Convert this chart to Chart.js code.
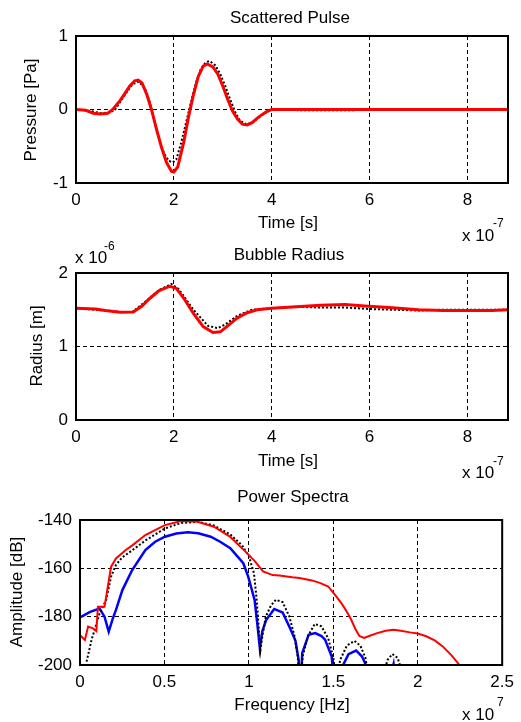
<!DOCTYPE html>
<html>
<head>
<meta charset="utf-8">
<script src="https://cdn.jsdelivr.net/npm/chart.js@4.4.1/dist/chart.umd.min.js"></script>
<style>
  html, body { margin: 0; padding: 0; background: #fff; }
  #wrap { position: relative; width: 521px; height: 722px; }
  #wrap canvas { position: absolute; left: 0; top: 0; }
</style>
</head>
<body>
<div id="wrap">
  <canvas id="pulse" width="521" height="722"></canvas>
  <canvas id="radius" width="521" height="722"></canvas>
  <canvas id="spectra" width="521" height="722"></canvas>
</div>
<script>
// Scattered pulse, time in units of 1e-7 s
const pulseTimeRed = [0, 0.2, 0.35, 0.5, 0.65, 0.75, 0.9, 1.0, 1.1, 1.2, 1.27, 1.35, 1.45, 1.55, 1.65, 1.75, 1.85, 1.95, 2.0, 2.08, 2.2, 2.3, 2.4, 2.5, 2.6, 2.68, 2.8, 2.9, 3.0, 3.1, 3.2, 3.3, 3.4, 3.5, 3.6, 3.7, 3.8, 3.9, 4.0, 8.83];
const pulseRed = [0, -0.01, -0.05, -0.06, -0.05, 0, 0.12, 0.22, 0.32, 0.39, 0.40, 0.36, 0.2, -0.02, -0.28, -0.52, -0.72, -0.84, -0.85, -0.78, -0.45, -0.1, 0.2, 0.45, 0.59, 0.62, 0.58, 0.48, 0.32, 0.14, -0.02, -0.13, -0.2, -0.21, -0.18, -0.12, -0.07, -0.03, 0, 0];
const pulseTimeBlack = [0, 0.3, 0.5, 0.7, 0.8, 1.0, 1.15, 1.28, 1.4, 1.5, 1.6, 1.7, 1.8, 1.9, 1.98, 2.05, 2.15, 2.25, 2.35, 2.45, 2.55, 2.65, 2.73, 2.85, 2.95, 3.05, 3.15, 3.25, 3.35, 3.48, 3.6, 3.75, 3.9, 4.0, 4.6, 5.7, 5.75, 8.83];
const pulseBlack = [0, -0.02, -0.05, -0.04, 0, 0.2, 0.34, 0.38, 0.3, 0.12, -0.15, -0.4, -0.6, -0.7, -0.72, -0.68, -0.45, -0.18, 0.1, 0.36, 0.55, 0.64, 0.66, 0.6, 0.48, 0.32, 0.14, -0.03, -0.15, -0.2, -0.18, -0.1, -0.03, 0, -0.01, -0.01, 0, 0];

// Bubble radius, in units of 1e-6 m
const radiusTimeRed = [0, 0.4, 0.6, 0.9, 1.17, 1.35, 1.5, 1.7, 1.92, 2.05, 2.2, 2.4, 2.6, 2.8, 2.95, 3.1, 3.3, 3.5, 3.7, 4.0, 4.5, 5.0, 5.5, 5.9, 6.4, 7.0, 7.5, 8.0, 8.5, 8.83];
const radiusRed = [1.52, 1.51, 1.49, 1.465, 1.47, 1.55, 1.65, 1.76, 1.82, 1.79, 1.66, 1.45, 1.27, 1.19, 1.2, 1.28, 1.39, 1.46, 1.5, 1.52, 1.54, 1.56, 1.57, 1.55, 1.53, 1.5, 1.49, 1.49, 1.49, 1.5];
const radiusTimeBlack = [0, 0.4, 0.9, 1.15, 1.4, 1.7, 1.95, 2.1, 2.4, 2.7, 2.9, 3.05, 3.3, 3.6, 4.0, 4.5, 5.0, 5.5, 6.0, 6.5, 7.0, 7.5, 8.0, 8.5, 8.83];
const radiusBlack = [1.52, 1.5, 1.47, 1.47, 1.6, 1.77, 1.85, 1.78, 1.5, 1.28, 1.25, 1.3, 1.42, 1.5, 1.52, 1.54, 1.53, 1.53, 1.51, 1.5, 1.49, 1.5, 1.5, 1.5, 1.5];

// Power spectra, frequency in units of 1e7 Hz, amplitude in dB
const freqRed = [0, 0.029, 0.048, 0.077, 0.097, 0.106, 0.145, 0.155, 0.184, 0.213, 0.271, 0.31, 0.387, 0.45, 0.503, 0.6, 0.696, 0.793, 0.89, 0.986, 1.035, 1.084, 1.141, 1.18, 1.257, 1.3, 1.373, 1.42, 1.47, 1.51, 1.548, 1.58, 1.606, 1.63, 1.654, 1.683, 1.72, 1.76, 1.81, 1.857, 1.9, 1.954, 2.0, 2.05, 2.1, 2.148, 2.2, 2.245, 2.3];
const ampRed = [-187.6, -189.7, -184.1, -184.8, -186, -175.9, -175.9, -171.7, -159.3, -155.9, -152.4, -150.5, -146.2, -144, -142.1, -140.4, -140.7, -142.8, -147, -153.5, -157, -161.3, -162.8, -163, -163.7, -164, -165, -166, -167.5, -171, -174.4, -178, -181.3, -185, -188, -188.8, -187.8, -186.8, -185.8, -185.4, -185.8, -186.5, -187, -188.1, -189.8, -192.3, -196, -199.8, -205];
const freqBlue = [0, 0.06, 0.116, 0.145, 0.17, 0.193, 0.213, 0.251, 0.309, 0.387, 0.445, 0.503, 0.57, 0.638, 0.7, 0.774, 0.83, 0.89, 0.967, 0.996, 1.034, 1.05, 1.065, 1.08, 1.102, 1.15, 1.2, 1.248, 1.276, 1.295, 1.305, 1.316, 1.354, 1.393, 1.43, 1.451, 1.49, 1.51, 1.558, 1.59, 1.635, 1.67, 1.693, 1.77, 1.857, 1.9];
const ampBlue = [-180.3, -178, -176.6, -180, -186.2, -181, -177.2, -169, -160.7, -152.4, -149, -146.9, -145.6, -145.1, -145.5, -146.9, -149, -151.7, -157.9, -163.4, -173.1, -183, -193, -186, -181.4, -176.8, -178.3, -185.4, -190, -198, -212, -195, -187.5, -186.8, -188, -189.5, -196.4, -210, -200, -195.5, -194, -196.5, -200, -225, -199.6, -225];
const freqBlack = [0.039, 0.068, 0.097, 0.116, 0.155, 0.184, 0.213, 0.25, 0.31, 0.387, 0.503, 0.6, 0.7, 0.79, 0.89, 0.96, 1.0, 1.03, 1.045, 1.06, 1.068, 1.08, 1.1, 1.13, 1.16, 1.2, 1.24, 1.27, 1.29, 1.3, 1.32, 1.35, 1.39, 1.43, 1.47, 1.5, 1.52, 1.54, 1.58, 1.625, 1.66, 1.69, 1.71, 1.76, 1.82, 1.85, 1.88, 1.91, 1.95];
const ampBlack = [-198.6, -189.7, -183, -178.6, -173, -163.4, -158.6, -155.5, -152.5, -148.5, -143.5, -141.2, -140.8, -142.2, -146, -150.5, -155, -162, -172, -186, -194, -188, -180, -175.5, -173, -174, -180, -188, -197, -210, -196, -188, -183, -184, -189, -197, -208, -198, -192, -190, -192, -197, -205, -215, -198, -195.5, -197, -203, -220];

Chart.defaults.font.family = "'Liberation Sans', Arial, sans-serif";
Chart.defaults.font.size = 17;
Chart.defaults.color = '#000';

const pts = (xs, ys) => xs.map((x, i) => ({x: x, y: ys[i]}));

// axes frame and free text (titles, axis labels, exponents)
const decor = {
  id: 'decor',
  afterDraw(chart, args, opts) {
    const {ctx, chartArea: a} = chart;
    ctx.save();
    ctx.strokeStyle = '#000';
    ctx.lineWidth = 2;
    ctx.strokeRect(a.left, a.top, a.right - a.left, a.bottom - a.top);
    ctx.fillStyle = '#000';
    ctx.textBaseline = 'alphabetic';
    opts.texts.forEach(t => {
      ctx.font = (t.size || 17) + "px 'Liberation Sans', Arial, sans-serif";
      ctx.textAlign = t.align || 'left';
      ctx.save();
      ctx.translate(t.x, t.y);
      if (t.rot) ctx.rotate(-Math.PI / 2);
      ctx.fillText(t.text, 0, 0);
      ctx.restore();
    });
    ctx.restore();
  }
};

function lineSet(data, color, width, dotted) {
  return {
    data: data,
    borderColor: color,
    borderWidth: width,
    borderDash: dotted ? [2, 2] : [],
    pointRadius: 0,
    fill: false,
    tension: 0
  };
}

function makeChart(id, datasets, area, xr, yr, texts) {
  const axis = (r, fit) => ({
    type: 'linear',
    min: r[0],
    max: r[1],
    afterFit: fit,
    grid: { color: '#000', lineWidth: 1, drawTicks: false },
    border: { display: false, dash: [4, 3] },
    ticks: { stepSize: r[2], includeBounds: false, padding: r[3], callback: v => String(v) }
  });
  return new Chart(document.getElementById(id), {
    type: 'line',
    data: { datasets: datasets },
    options: {
      responsive: false,
      animation: false,
      events: [],
      layout: { padding: { left: 0, top: area.top, right: 521 - area.right, bottom: 722 - area.bottom - 30 } },
      plugins: { legend: { display: false }, tooltip: { enabled: false }, decor: { texts: texts } },
      scales: {
        x: axis(xr, s => { s.height = 30; }),
        y: axis(yr, s => { s.width = area.left; })
      }
    },
    plugins: [decor]
  });
}

makeChart('pulse', [
  lineSet(pts(pulseTimeRed, pulseRed), '#ff0000', 3, false),
  lineSet(pts(pulseTimeBlack, pulseBlack), '#000000', 2, true)
], {left: 76, top: 36, right: 508, bottom: 183}, [0, 8.83, 2, 7], [-1, 1, 1, 8], [
  {text: 'Scattered Pulse', x: 290, y: 23, align: 'center'},
  {text: 'Time [s]', x: 288, y: 228, align: 'center'},
  {text: 'Pressure [Pa]', x: 36, y: 110, align: 'center', rot: true},
  {text: 'x 10', x: 462, y: 241},
  {text: '-7', x: 493, y: 227, size: 12}
]);

makeChart('radius', [
  lineSet(pts(radiusTimeRed, radiusRed), '#ff0000', 3, false),
  lineSet(pts(radiusTimeBlack, radiusBlack), '#000000', 2, true)
], {left: 76, top: 273, right: 508, bottom: 420}, [0, 8.83, 2, 7], [0, 2, 1, 8], [
  {text: 'Bubble Radius', x: 289, y: 260, align: 'center'},
  {text: 'Time [s]', x: 288, y: 466, align: 'center'},
  {text: 'Radius [m]', x: 42, y: 346, align: 'center', rot: true},
  {text: 'x 10', x: 75, y: 263},
  {text: '-6', x: 104, y: 250, size: 12},
  {text: 'x 10', x: 462, y: 478},
  {text: '-7', x: 493, y: 465, size: 12}
]);

makeChart('spectra', [
  lineSet(pts(freqRed, ampRed), '#ff0000', 2, false),
  lineSet(pts(freqBlack, ampBlack), '#000000', 2, true),
  lineSet(pts(freqBlue, ampBlue), '#0000ff', 2.5, false)
], {left: 80, top: 520, right: 511, bottom: 665}, [0, 2.5, 0.5, 7], [-200, -140, 20, 8], [
  {text: 'Power Spectra', x: 293, y: 502, align: 'center'},
  {text: 'Frequency [Hz]', x: 292, y: 710, align: 'center'},
  {text: 'Amplitude [dB]', x: 22, y: 592, align: 'center', rot: true},
  {text: 'x 10', x: 462, y: 720},
  {text: '7', x: 497, y: 706, size: 12}
]);
</script>
</body>
</html>
